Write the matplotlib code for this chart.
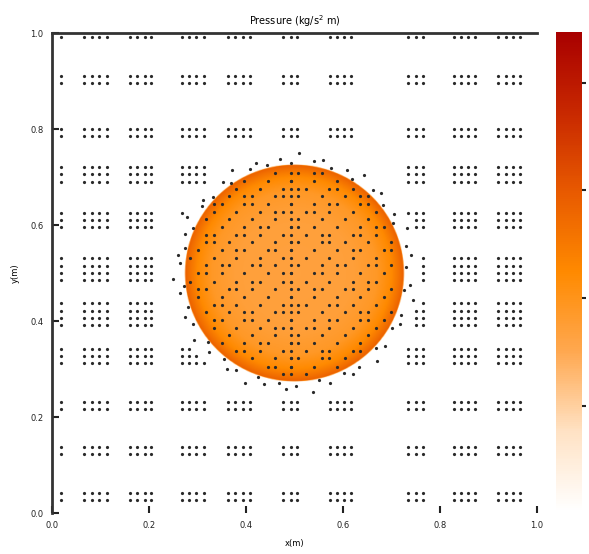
import numpy as np
import matplotlib
matplotlib.use('Agg')
import matplotlib.pyplot as plt
from matplotlib.colors import LinearSegmentedColormap

# coarse mesh: cell-centre columns and rows (data units)
col_x = [0.018,
         0.066, 0.082, 0.096, 0.113,
         0.160, 0.176, 0.191, 0.205,
         0.268, 0.283, 0.297, 0.314,
         0.363, 0.377, 0.393, 0.408,
         0.477, 0.492, 0.506,
         0.574, 0.588, 0.602, 0.617,
         0.734, 0.750, 0.764,
         0.828, 0.844, 0.857, 0.873,
         0.920, 0.936, 0.951, 0.965]
row_y = [0.992,
         0.910, 0.896,
         0.800, 0.785,
         0.721, 0.706, 0.690,
         0.625, 0.610, 0.596,
         0.531, 0.515, 0.500, 0.485,
         0.437, 0.421, 0.406, 0.392,
         0.342, 0.327, 0.312,
         0.231, 0.217,
         0.137, 0.123,
         0.042, 0.027]

# refined mesh inside the disc
fine_x = [0.285, 0.300, 0.318, 0.333, 0.350, 0.364, 0.380, 0.396, 0.412,
          0.428, 0.445, 0.460, 0.476, 0.492, 0.508, 0.524, 0.540, 0.556,
          0.572, 0.588, 0.604, 0.620, 0.636, 0.652, 0.668, 0.684, 0.700]
fine_y = [0.290, 0.305, 0.322, 0.338, 0.354, 0.370, 0.386, 0.402, 0.418,
          0.434, 0.450, 0.466, 0.482, 0.500, 0.516, 0.532, 0.548, 0.564,
          0.580, 0.596, 0.612, 0.628, 0.644, 0.660, 0.676, 0.692, 0.708]

# particles scattered just outside the disc edge
ring_deg = [3, 9, 14, 22, 27, 31, 38, 43, 47, 55, 59, 63, 71, 76, 80, 88,
            92, 97, 104, 109, 113, 121, 125, 128, 137, 141, 144, 152, 156,
            160, 167, 171, 175, 183, 187, 190, 198, 202, 207, 214, 219,
            223, 231, 235, 239, 246, 251, 255, 262, 266, 271, 279, 283,
            288, 296, 300, 304, 313, 317, 321, 330, 334, 338, 347, 351, 354]
ring_r = [0.231, 0.243, 0.236, 0.250, 0.229, 0.240]

# disc: centre, radius and radial pressure profile (0..1 on the colour scale)
disc_x, disc_y, disc_r = 0.50, 0.50, 0.226
profile_r = [0.0, 0.12, 0.17, 0.20, 0.215, 0.225, 0.227]
profile_p = [0.37, 0.38, 0.42, 0.50, 0.58, 0.64, 0.0]

cbar_ticks = [0.22, 0.445, 0.67, 0.895]

cmap = LinearSegmentedColormap.from_list(
    'press', ['#ffffff', '#ffe2c4', '#ffa850', '#ff8a00',
              '#e85a00', '#c82800', '#a80000'])

fig = plt.figure(figsize=(5.89, 5.54), dpi=100)
ax = fig.add_axes([0.0883, 0.074, 0.8234, 0.8664])
cax = fig.add_axes([0.944, 0.076, 0.044, 0.866])

# pressure field
n = 600
gx, gy = np.meshgrid(np.linspace(0, 1, n), np.linspace(0, 1, n))
rr = np.hypot(gx - disc_x, gy - disc_y)
field = np.interp(rr, profile_r, profile_p, right=0.0)
im = ax.imshow(field, origin='lower', extent=[0, 1, 0, 1], cmap=cmap,
               vmin=0, vmax=1, aspect='auto', interpolation='bilinear')

dot = dict(ms=2.3, color='#2a2a2a', mec='none', ls='none', marker='o')

# coarse mesh points away from the disc
cx, cy = np.meshgrid(col_x, row_y)
cx, cy = cx.ravel(), cy.ravel()
keep = np.hypot(cx - disc_x, cy - disc_y) > disc_r + 0.035
ax.plot(cx[keep], cy[keep], **dot)

# refined points inside the disc (partial, like the picture)
fx, fy = np.meshgrid(fine_x, fine_y)
ix, iy = np.meshgrid(range(len(fine_x)), range(len(fine_y)))
fx, fy, ix, iy = fx.ravel(), fy.ravel(), ix.ravel(), iy.ravel()
inside = np.hypot(fx - disc_x, fy - disc_y) < disc_r - 0.005
pattern = ((ix + 2 * iy) % 3 == 0) | ((ix * iy) % 5 == 1)
sel = inside & pattern
ax.plot(fx[sel], fy[sel], **dot)

# dense central column
col_mask = np.abs(np.array(fine_y) - disc_y) < disc_r
ax.plot([0.492] * int(col_mask.sum()), np.array(fine_y)[col_mask], **dot)

# ring particles
for k, ang in enumerate(ring_deg):
    r = ring_r[k % len(ring_r)]
    a = np.deg2rad(ang)
    ax.plot(disc_x + r * np.cos(a), disc_y + r * np.sin(a), **dot)

ax.set_xlim(0, 1)
ax.set_ylim(0, 1)
ticks = [0.0, 0.2, 0.4, 0.6, 0.8, 1.0]
ax.set_xticks(ticks)
ax.set_yticks(ticks)
ax.set_xticklabels(['0.0', '0.2', '0.4', '0.6', '0.8', '1.0'])
ax.set_yticklabels(['0.0', '0.2', '0.4', '0.6', '0.8', '1.0'])
ax.tick_params(direction='in', length=5, width=1.5, labelsize=6,
               colors='#222222', pad=6)
for side in ['right', 'bottom']:
    ax.spines[side].set_visible(False)
for side in ['left', 'top']:
    ax.spines[side].set_linewidth(2)
    ax.spines[side].set_color('#333333')

ax.set_title('Pressure (kg/s$^2$ m)', fontsize=7, pad=6)
ax.set_xlabel('x(m)', fontsize=6, labelpad=4)
ax.xaxis.set_label_coords(0.5, -0.055)
ax.set_ylabel('y(m)', fontsize=6, labelpad=8)

cb = fig.colorbar(im, cax=cax)
cb.set_ticks(cbar_ticks)
cb.set_ticklabels([''] * len(cbar_ticks))
cb.outline.set_visible(False)
cax.tick_params(length=3, width=1.5, colors='#222222')

fig.savefig('out.png', dpi=100)
